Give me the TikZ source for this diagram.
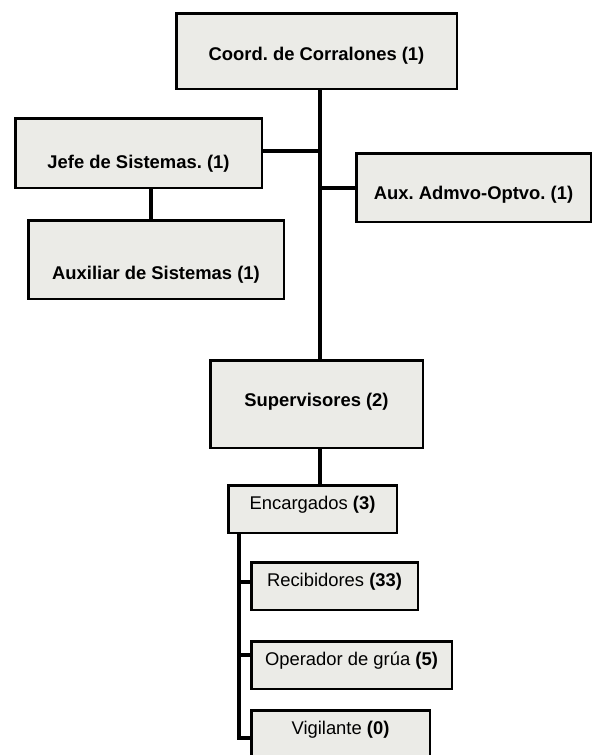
\documentclass[tikz,border=0pt]{standalone}
\usepackage{fontspec}
\setmainfont{Liberation Sans}
\usepackage{tikz}
\usetikzlibrary{calc}

\definecolor{caja}{RGB}{235,235,231}
\tikzset{
  cargo/.style={draw, line width=2.5pt, fill=caja, inner sep=2pt, text depth=3.8pt,
    font=\fontsize{18.4}{22}\selectfont\bfseries\frenchspacing},
  puesto/.style={draw, line width=2.5pt, fill=caja, inner sep=2pt, text height=14pt, text depth=13pt,
    font=\fontsize{18.4}{22}\selectfont\frenchspacing},
  rama/.style={line width=4pt}
}

\begin{document}
\begin{tikzpicture}[x=1pt, y=-1pt]
  \useasboundingbox (0,0) rectangle (593,755);
  \coordinate (trunk) at (320,0);
  \coordinate (rail) at (239,0);

  \node[cargo, minimum width=280.5pt, minimum height=75.5pt, text height=23pt] (coord) at (316.5,51) {Coord. de Corralones (1)};
  \node[cargo, minimum width=246.5pt, minimum height=69.5pt, text height=35pt] (jefe) at (138.5,153) {Jefe de Sistemas. (1)};
  \node[cargo, minimum width=255.5pt, minimum height=78.5pt, text height=43pt] (auxsis) at (156,259.5) {Auxiliar de Sistemas (1)};
  \node[cargo, minimum width=234.5pt, minimum height=68.5pt, text height=27pt] (admvo) at (473.5,187.5) {Aux. Admvo-Optvo. (1)};
  \node[cargo, minimum width=212.5pt, minimum height=87.5pt, text height=13.4pt, text depth=8.2pt] (superv) at (316.5,404) {Supervisores (2)};

  \node[puesto, minimum width=168.5pt, minimum height=47.5pt] (encarg) at (312.5,509) {Encargados \textbf{(3)}};
  \node[puesto, minimum width=166.5pt, minimum height=47.5pt] (recib) at (334.5,586) {Recibidores \textbf{(33)}};
  \node[puesto, minimum width=200.5pt, minimum height=47.5pt] (operad) at (351.5,665) {Operador de grúa \textbf{(5)}};
  \node[puesto, minimum width=178.5pt, minimum height=47.5pt] (vigil) at (340.5,734) {Vigilante \textbf{(0)}};

  \draw[rama] (coord.south -| trunk) -- (superv.north -| trunk);
  \draw[rama] ([yshift=2pt]jefe.east) -- ([yshift=2pt]jefe.east -| trunk);
  \draw[rama] (admvo.west) -- (admvo.west -| trunk);
  \draw[rama] ([xshift=12.5pt]jefe.south) -- ([xshift=12.5pt]jefe.south |- auxsis.north);
  \draw[rama] (superv.south -| trunk) -- (encarg.north -| trunk);
  \draw[rama] (encarg.south -| rail) |- ([yshift=-4pt]vigil.west);
  \draw[rama] ([yshift=4pt]recib.west) -- ([yshift=4pt]recib.west -| rail);
  \draw[rama] ([yshift=10pt]operad.west) -- ([yshift=10pt]operad.west -| rail);
\end{tikzpicture}
\end{document}
